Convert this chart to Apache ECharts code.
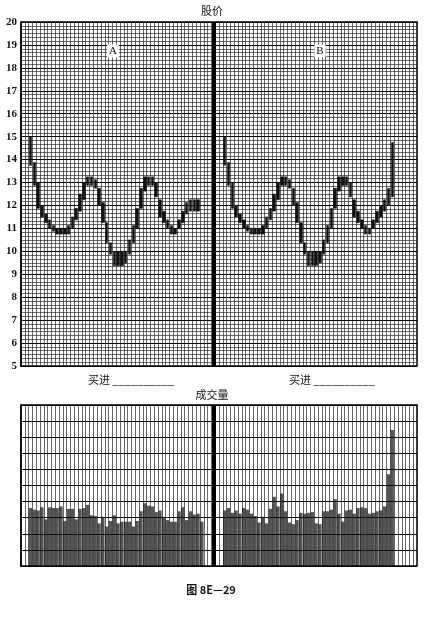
<!DOCTYPE html>
<html><head><meta charset="utf-8">
<script src="https://cdn.jsdelivr.net/npm/echarts@6/dist/echarts.min.js"></script>
<style>html,body{margin:0;padding:0;background:#fff}#c{width:442px;height:620px}</style>
</head><body><div id="c"></div>
<script>
// ---- data ----
const columnCount = 104;          // grid columns (trading days) across both panels
const dividerColumn = 50;         // thick separator between panel A and panel B
const aStart = 2;                 // first day of panel A
const bStart = 53;                // first day of panel B
const priceMin = 5, priceMax = 20;
const volumeMax = 10;

const aLow  = [13.75,12.875,11.875,11.5,11.25,11.0,10.875,10.75,10.75,10.75,10.75,11.0,11.375,11.75,12.25,12.875,12.875,12.75,12.0,11.25,10.375,9.875,9.375,9.375,9.375,9.5,9.875,10.375,11.0,11.875,12.625,12.875,12.875,12.375,11.5,11.25,11.0,10.75,10.75,11.0,11.25,11.625,11.75,11.75,11.75];
const aHigh = [15.0,13.875,13.0,12.0,11.625,11.375,11.125,11.0,11.0,11.0,11.125,11.5,11.875,12.5,13.0,13.25,13.25,13.125,12.75,12.125,11.25,10.375,10.0,10.0,10.0,10.0,10.5,11.125,11.875,12.75,13.25,13.25,13.25,13.0,12.25,11.75,11.375,11.125,11.0,11.375,11.75,12.125,12.25,12.25,12.25];
const bLow  = [13.75,12.875,11.875,11.5,11.25,11.0,10.875,10.75,10.75,10.75,10.75,11.0,11.375,11.75,12.25,12.875,12.875,12.75,12.0,11.25,10.375,9.875,9.375,9.375,9.375,9.5,9.875,10.375,11.0,11.875,12.625,12.875,12.875,12.375,11.5,11.25,11.0,10.75,10.75,11.0,11.25,11.5,11.75,12.0,12.375];
const bHigh = [15.0,13.875,13.0,12.0,11.625,11.375,11.125,11.0,11.0,11.0,11.125,11.5,11.875,12.5,13.0,13.25,13.25,13.125,12.75,12.125,11.25,10.375,10.0,10.0,10.0,10.0,10.5,11.125,11.875,12.75,13.25,13.25,13.25,13.0,12.25,11.75,11.375,11.125,11.0,11.375,11.75,12.0,12.25,12.75,14.75];
const volA = [3.6,3.5,3.45,3.65,2.9,3.65,3.6,3.6,3.7,2.8,3.55,3.55,2.9,3.55,3.6,3.8,3.15,3.1,2.65,3.05,2.45,2.8,3.15,2.65,2.75,2.75,2.75,2.45,2.8,3.4,3.9,3.75,3.7,3.35,3.45,3.05,2.85,2.75,2.75,3.4,3.65,2.85,3.4,3.2,3.25,2.75];
const volB = [3.45,3.6,3.3,3.45,3.25,3.6,3.5,3.25,3.1,2.7,3.05,2.65,3.55,4.3,3.7,4.5,3.4,2.7,2.6,2.85,3.3,3.25,3.3,3.35,2.65,2.6,3.4,3.4,3.5,4.15,3.25,2.75,3.45,3.5,3.25,3.6,3.65,3.6,3.25,3.3,3.4,3.45,3.7,5.7,8.45];

// ---- build library data ----
const cats = Array.from({length: columnCount}, (_, i) => String(i));
const candles = new Array(columnCount).fill('-');
aLow.forEach((l, i) => { candles[aStart + i] = [l, aHigh[i], l, aHigh[i]]; });
bLow.forEach((l, i) => { candles[bStart + i] = [l, bHigh[i], l, bHigh[i]]; });
const vols = new Array(columnCount).fill(null);
volA.forEach((v, i) => { vols[aStart + i] = v; });
volB.forEach((v, i) => { vols[bStart + i] = v; });

const serif = '"Liberation Serif", "DejaVu Serif", serif';
const cjk = '"Noto Sans CJK SC", sans-serif';

const chart = echarts.init(document.getElementById('c'), null, {renderer: 'canvas'});
const xAxisBase = {
  type: 'category', data: cats, boundaryGap: true,
  axisLine: {show: false}, axisTick: {show: false}, axisLabel: {show: false},
  splitLine: {show: true, interval: 0, lineStyle: {color: '#262626', width: 0.7}}
};
const divider = {
  silent: true, symbol: 'none', animation: false,
  label: {show: false},
  lineStyle: {color: '#000', width: 4, type: 'solid'},
  data: [{xAxis: dividerColumn}]
};
chart.setOption({
  animation: false,
  backgroundColor: '#fff',
  grid: [
    {left: 21, right: 25, top: 22, height: 344, show: true, borderColor: '#000', borderWidth: 1.5},
    {left: 21, right: 25, top: 405, height: 161, show: true, borderColor: '#000', borderWidth: 1.5}
  ],
  xAxis: [
    Object.assign({gridIndex: 0}, xAxisBase),
    Object.assign({gridIndex: 1}, xAxisBase)
  ],
  yAxis: [
    {
      gridIndex: 0, type: 'value', min: priceMin, max: priceMax, interval: 1,
      axisLine: {show: true, lineStyle: {color: '#000', width: 1.5}},
      axisTick: {show: false},
      minorTick: {show: false, splitNumber: 6},
      axisLabel: {color: '#111', fontFamily: serif, fontSize: 11, fontWeight: 'bold', margin: 4},
      splitLine: {show: true, lineStyle: {color: '#000', width: 1.1}},
      minorSplitLine: {show: true, lineStyle: {color: '#2e2e2e', width: 0.7}}
    },
    {
      gridIndex: 1, type: 'value', min: 0, max: volumeMax, interval: 1,
      axisLine: {show: true, lineStyle: {color: '#000', width: 1.5}},
      axisTick: {show: false}, axisLabel: {show: false},
      splitLine: {show: true, lineStyle: {color: '#000', width: 1.1}}
    }
  ],
  series: [
    {
      type: 'candlestick', xAxisIndex: 0, yAxisIndex: 0, data: candles,
      barWidth: 3,
      itemStyle: {color: '#111', color0: '#111', borderColor: '#111', borderColor0: '#111', borderWidth: 0.5},
      markLine: divider
    },
    {
      type: 'bar', xAxisIndex: 1, yAxisIndex: 1, data: vols,
      barCategoryGap: '12%',
      itemStyle: {color: 'rgba(20,20,20,0.72)'},
      markLine: divider
    }
  ],
  graphic: [
    {type: 'text', x: 212, y: 11, style: {text: '股价', textAlign: 'center', textVerticalAlign: 'middle', font: '11px ' + cjk, fill: '#111'}},
    {type: 'text', x: 113, y: 51, z: 100, style: {text: 'A', textAlign: 'center', textVerticalAlign: 'middle', font: '11px ' + serif, fill: '#111', backgroundColor: '#fff', padding: [1, 2]}},
    {type: 'text', x: 320, y: 51, z: 100, style: {text: 'B', textAlign: 'center', textVerticalAlign: 'middle', font: '11px ' + serif, fill: '#111', backgroundColor: '#fff', padding: [1, 2]}},
    {type: 'text', x: 88, y: 380, style: {text: '买进 __________', textAlign: 'left', textVerticalAlign: 'middle', font: '11px ' + cjk, fill: '#111'}},
    {type: 'text', x: 289, y: 380, style: {text: '买进 __________', textAlign: 'left', textVerticalAlign: 'middle', font: '11px ' + cjk, fill: '#111'}},
    {type: 'text', x: 212, y: 395, style: {text: '成交量', textAlign: 'center', textVerticalAlign: 'middle', font: '11px ' + cjk, fill: '#111'}},
    {type: 'text', x: 211, y: 590, style: {text: '图 8E—29', textAlign: 'center', textVerticalAlign: 'middle', font: 'bold 11px ' + cjk, fill: '#111'}}
  ]
});
</script></body></html>
